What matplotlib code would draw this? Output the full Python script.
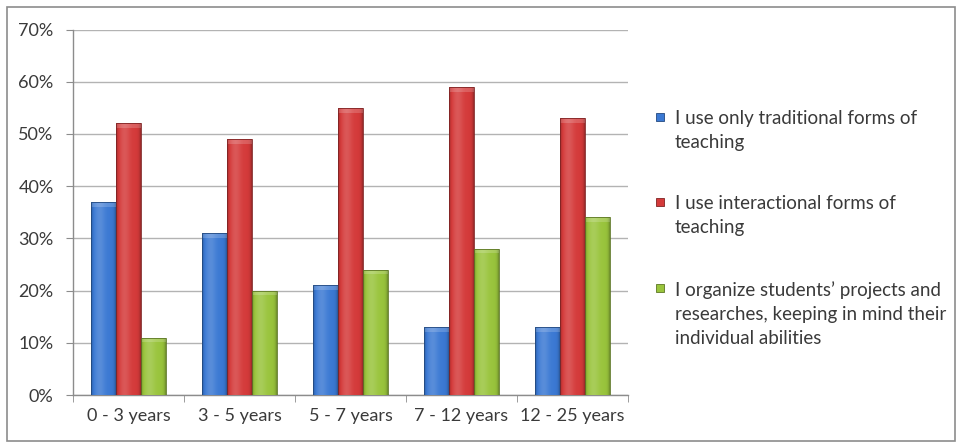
import numpy as np
import matplotlib.pyplot as plt
from matplotlib.patches import Rectangle
from matplotlib.colors import to_rgb

plt.rcParams['font.family'] = ['Lato', 'DejaVu Sans']

categories = ['0 - 3 years', '3 - 5 years', '5 - 7 years', '7 - 12 years', '12 - 25 years']
traditional = [37, 31, 21, 13, 13]
interactional = [52, 49, 55, 59, 53]
projects = [11, 20, 24, 28, 34]
series_labels = [
    'I use only traditional forms of\nteaching',
    'I use interactional forms of\nteaching',
    'I organize students\u2019 projects and\nresearches, keeping in mind their\nindividual abilities',
]
colors = ['#3b79d3', '#d43a3a', '#99c43c']
y_ticks = [0, 10, 20, 30, 40, 50, 60, 70]

W, H = 961, 445
fig = plt.figure(figsize=(W / 100, H / 100), dpi=100)
fig.patch.set_facecolor('white')
fig.add_artist(Rectangle((7 / W, 4 / H), 948 / W, 434 / H,
                         transform=fig.transFigure, fill=False,
                         edgecolor='#8c8c8c', linewidth=1.2))

ax = fig.add_axes([73 / W, 50 / H, 555 / W, 365.5 / H])

x = np.arange(len(categories))
w = 0.225
text_color = '#3a3a3a'


def shade(base, n=64):
    """Cylinder-like horizontal shading for a bar."""
    rgb = np.array(to_rgb(base))
    t = np.linspace(0, 1, n)
    f = 1.0 + 0.15 * np.exp(-((t - 0.35) / 0.22) ** 2) - 0.3 * (np.abs(t - 0.5) * 2) ** 8
    out = np.empty((1, n, 3))
    for i, fi in enumerate(f):
        if fi >= 1:
            out[0, i] = rgb + (1 - rgb) * (fi - 1)
        else:
            out[0, i] = rgb * fi
    return np.clip(out, 0, 1)


for k, (vals, col) in enumerate(zip([traditional, interactional, projects], colors)):
    bars = ax.bar(x + (k - 1) * w, vals, w, color=col, edgecolor='none', zorder=2)
    img = shade(col)
    for b in bars:
        bx, by, bw, bh = b.get_x(), b.get_y(), b.get_width(), b.get_height()
        im = ax.imshow(img, extent=[bx, bx + bw, by, by + bh], aspect='auto',
                       zorder=3, interpolation='bilinear')
        im.set_clip_path(b)
        # slightly lighter bevelled top
        cap = Rectangle((bx, by + bh - 0.9), bw, 0.9, facecolor='white',
                        alpha=0.18, edgecolor='none', zorder=4)
        ax.add_patch(cap)
        edge = Rectangle((bx, by), bw, bh, fill=False,
                         edgecolor=tuple(np.array(to_rgb(col)) * 0.6),
                         linewidth=0.6, zorder=5)
        ax.add_patch(edge)

ax.set_xlim(-0.5, len(categories) - 0.5)
ax.set_ylim(0, 70)
ax.set_yticks(y_ticks)
ax.set_yticklabels([f'{v}%' for v in y_ticks])
ax.yaxis.grid(True, color='#b3b3b3', linewidth=1.0, zorder=0)
ax.set_axisbelow(True)

ax.set_xticks(x)
ax.set_xticklabels(categories)
ax.set_xticks(np.arange(len(categories) + 1) - 0.5, minor=True)
ax.tick_params(axis='x', which='major', length=0, pad=9, labelsize=13, labelcolor=text_color)
ax.tick_params(axis='x', which='minor', length=5, color='#8c8c8c')
ax.tick_params(axis='y', length=5, color='#8c8c8c', pad=9, labelsize=13, labelcolor=text_color)

for s in ['top', 'right']:
    ax.spines[s].set_visible(False)
for s in ['left', 'bottom']:
    ax.spines[s].set_color('#8c8c8c')
    ax.spines[s].set_linewidth(1.0)

# legend: small square marker beside the first line of each entry
legend_rows = [117, 202, 288]
for label, col, yrow in zip(series_labels, colors, legend_rows):
    fig.add_artist(Rectangle((656 / W, (H - yrow - 4) / H), 8 / W, 8 / H,
                             transform=fig.transFigure, facecolor=col,
                             edgecolor=tuple(np.array(to_rgb(col)) * 0.6),
                             linewidth=0.6))
    fig.text(675 / W, (H - yrow + 7) / H, label, ha='left', va='top',
             fontsize=13.5, color=text_color, linespacing=1.52)

fig.savefig('out.png', dpi=100)
